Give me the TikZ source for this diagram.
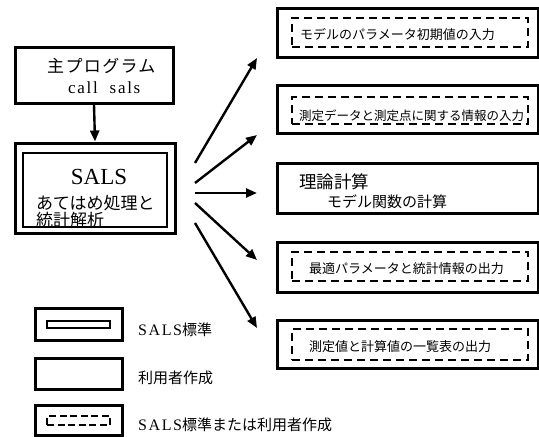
\documentclass[tikz,border=0pt]{standalone}
\usepackage{fontspec}
\setmainfont{Liberation Serif}
\newfontfamily\ser{Liberation Serif}
\newfontfamily\serw[LetterSpace=10]{Liberation Serif}
\newfontfamily\jp{Noto Sans CJK JP}
\newfontfamily\jpw[LetterSpace=8]{Noto Sans CJK JP}
\usetikzlibrary{arrows.meta}
\tikzset{
  outerbox/.style={draw, line width=3pt, inner sep=0pt, minimum width=#1},
  innerbox/.style={draw, line width=2.2pt, inner sep=0pt},
  dashbox/.style={draw, line width=2.2pt, dash pattern=on 8pt off 5pt, inner sep=0pt},
  smalldash/.style={draw, line width=2.2pt, dash pattern=on 7pt off 3.5pt, inner sep=0pt},
  conn/.style={line width=2.4pt, -{Triangle[length=11pt,width=9pt]}},
  lbl/.style={anchor=west, inner sep=0pt},
}
\begin{document}
\begin{tikzpicture}[x=1pt,y=-1pt]
\useasboundingbox (0,0) rectangle (539,437);
% main program
\node[outerbox=158pt, minimum height=56pt] (main) at (94,75) {};
\node[lbl, font=\jpw\fontsize{17}{19}\selectfont] (mainT) at (47,66) {主プログラム};
\node[lbl, font=\serw\fontsize{17}{19}\selectfont] (mainC) at (68,88) {call\ \ sals};
% SALS box
\node[outerbox=160pt, minimum height=90pt] (sals) at (95,188) {};
\node[innerbox, minimum width=144pt, minimum height=74pt] (salsIn) at (95,190) {};
\node[inner sep=0pt, font=\ser\fontsize{23}{25}\selectfont] (salsT) at (99,177) {SALS};
\node[lbl, font=\jp\fontsize{17}{18}\selectfont] (salsA) at (36,203) {あてはめ処理と};
\node[lbl, font=\jp\fontsize{17}{18}\selectfont] (salsB) at (36,220.5) {統計解析};
\draw[conn] (main.south) -- (sals.north);
% right boxes
\node[outerbox=261pt, minimum height=49pt] (r1) at (407.5,32.5) {};
\node[dashbox, minimum width=236pt, minimum height=29pt] (r1d) at (410,32.5) {};
\node[lbl, font=\jp\fontsize{13}{15}\selectfont] (r1t) at (300,35) {モデルのパラメータ初期値の入力};
\node[outerbox=261pt, minimum height=48pt] (r2) at (407.5,109) {};
\node[dashbox, minimum width=236pt, minimum height=27pt] (r2d) at (410,110.5) {};
\node[lbl, font=\jp\fontsize{12.5}{14}\selectfont] (r2t) at (299,116) {測定データと測定点に関する情報の入力};
\node[outerbox=261pt, minimum height=50pt] (r3) at (407.5,188) {};
\node[lbl, font=\jp\fontsize{17.5}{19}\selectfont] (r3a) at (299,182) {理論計算};
\node[lbl, font=\jp\fontsize{15}{17}\selectfont] (r3b) at (327,202) {モデル関数の計算};
\node[outerbox=261pt, minimum height=50pt] (r4) at (407.5,267) {};
\node[dashbox, minimum width=236pt, minimum height=29pt] (r4d) at (410,266.5) {};
\node[lbl, font=\jp\fontsize{13}{15}\selectfont] (r4t) at (309,269) {最適パラメータと統計情報の出力};
\node[outerbox=261pt, minimum height=48pt] (r5) at (407.5,344) {};
\node[dashbox, minimum width=236pt, minimum height=31pt] (r5d) at (410,344.5) {};
\node[lbl, font=\jp\fontsize{13}{15}\selectfont] (r5t) at (309,347) {測定値と計算値の一覧表の出力};
% fan of connectors
\coordinate (s1) at (195,163); \coordinate (e1) at (257,58);
\coordinate (s2) at (195,183); \coordinate (e2) at (257,135);
\coordinate (s3) at (195,193); \coordinate (e3) at (257,193);
\coordinate (s4) at (195,203); \coordinate (e4) at (257,260);
\coordinate (s5) at (195,223); \coordinate (e5) at (257,328);
\foreach \i in {1,...,5} { \draw[conn] (s\i) -- (e\i); }
% legend
\node[outerbox=87pt, minimum height=32pt] (l1) at (78.5,324) {};
\node[innerbox, minimum width=63pt, minimum height=7pt] (l1i) at (78.5,324.5) {};
\node[lbl, font=\fontsize{15}{17}\selectfont] (l1t) at (138,330) {{\serw\fontsize{16}{17}\selectfont SALS}{\jp 標準}};
\node[outerbox=87pt, minimum height=31pt] (l2) at (78.5,373.5) {};
\node[lbl, font=\jp\fontsize{15}{17}\selectfont] (l2t) at (138,378) {利用者作成};
\node[outerbox=87pt, minimum height=30pt] (l3) at (78.5,420) {};
\node[smalldash, minimum width=63pt, minimum height=9pt] (l3i) at (78.5,420.5) {};
\node[lbl, font=\fontsize{15}{17}\selectfont] (l3t) at (138,425) {{\serw\fontsize{16}{17}\selectfont SALS}{\jp 標準または利用者作成}};
\end{tikzpicture}
\end{document}
